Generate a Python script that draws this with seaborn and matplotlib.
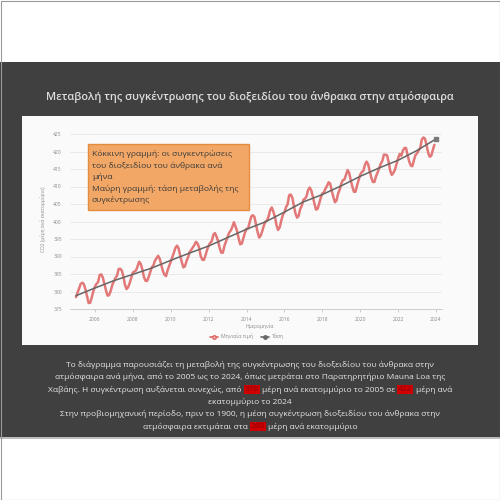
import numpy as np
import pandas as pd
import matplotlib
matplotlib.use("Agg")
import matplotlib.pyplot as plt
from matplotlib.patches import Rectangle
from matplotlib.lines import Line2D
import seaborn as sns

# Μηνιαίες τιμές CO2 (ppm), Mauna Loa, Ιαν 2005 - Δεκ 2023
years = list(range(2005, 2024))
months = list(range(1, 13))
co2_monthly = [
    378.4, 379.7, 380.9, 382.2, 382.5, 382.1, 380.6, 378.6, 376.7, 376.8, 378.3, 380.1,  # 2005
    381.4, 382.2, 382.7, 384.7, 384.9, 384.0, 382.1, 380.3, 378.8, 379.0, 380.2, 381.9,  # 2006
    382.9, 383.9, 384.5, 386.4, 386.5, 386.0, 384.4, 381.9, 380.7, 381.2, 382.4, 383.9,  # 2007
    385.4, 385.7, 386.0, 387.2, 388.5, 387.9, 386.4, 384.2, 383.1, 383.0, 384.1, 385.5,  # 2008
    386.9, 387.4, 388.8, 389.5, 390.2, 389.4, 387.7, 385.9, 384.8, 384.4, 386.0, 387.3,  # 2009
    388.5, 389.8, 391.1, 392.5, 393.1, 392.3, 390.2, 388.4, 386.9, 387.2, 388.7, 389.8,  # 2010
    391.3, 391.9, 392.6, 393.3, 394.2, 393.7, 392.5, 390.1, 389.1, 389.0, 390.3, 391.9,  # 2011
    393.1, 393.9, 394.4, 396.2, 396.7, 395.7, 394.4, 392.4, 391.1, 391.1, 393.0, 394.3,  # 2012
    395.6, 396.8, 397.4, 398.4, 399.8, 398.6, 397.3, 395.2, 393.5, 393.7, 395.2, 396.8,  # 2013
    397.9, 398.0, 399.8, 401.4, 401.8, 401.3, 399.1, 397.0, 395.4, 396.0, 397.3, 398.9,  # 2014
    400.0, 400.3, 401.5, 403.3, 404.0, 402.8, 401.3, 398.9, 397.6, 398.3, 400.2, 401.9,  # 2015
    402.6, 404.1, 404.9, 407.5, 407.7, 406.8, 404.4, 402.3, 401.1, 401.6, 403.6, 404.5,  # 2016
    406.2, 406.5, 407.2, 409.0, 409.7, 408.9, 407.1, 405.1, 403.4, 403.6, 405.1, 406.8,  # 2017
    408.0, 408.3, 409.4, 410.2, 411.2, 410.8, 408.7, 407.0, 405.5, 406.0, 408.0, 409.1,  # 2018
    410.8, 411.8, 412.0, 413.3, 414.7, 413.9, 411.8, 410.0, 408.5, 408.5, 410.3, 411.8,  # 2019
    413.4, 414.1, 414.5, 416.2, 417.1, 416.4, 414.4, 412.6, 411.3, 411.3, 412.9, 414.0,  # 2020
    415.2, 416.5, 417.3, 419.1, 419.1, 418.9, 417.0, 414.5, 413.3, 413.9, 414.8, 416.4,  # 2021
    418.1, 419.3, 418.8, 420.2, 421.0, 421.0, 418.9, 417.2, 416.0, 415.8, 417.5, 419.0,  # 2022
    419.5, 420.3, 421.0, 423.4, 424.0, 423.7, 421.8, 419.7, 418.5, 418.8, 420.5, 421.9,  # 2023
]

# Τάση (αρχή κάθε έτους)
trend_years = list(range(2005, 2025))
trend_ppm = [378.8, 381.0, 383.1, 384.9, 386.7, 388.9, 391.0, 393.0, 395.4, 397.8,
             399.9, 402.7, 405.6, 407.7, 410.2, 412.9, 415.3, 417.5, 420.3, 423.6]

y_ticks = [375, 380, 385, 390, 395, 400, 405, 410, 415, 420, 425]
x_ticks = [2006, 2008, 2010, 2012, 2014, 2016, 2018, 2020, 2022, 2024]

title = "Μεταβολή της συγκέντρωσης του διοξειδίου του άνθρακα στην ατμόσφαιρα"
x_label = "Ημερομηνία"
y_label = "CO2 (μέρη ανά εκατομμύριο)"
legend_labels = ["Μηνιαία τιμή", "Τάση"]
note_lines = ["Κόκκινη γραμμή: οι συγκεντρώσεις",
              "του διοξειδίου του άνθρακα ανά",
              "μήνα",
              "Μαύρη γραμμή: τάση μεταβολής της",
              "συγκέντρωσης"]
# κείμενο κάτω από το διάγραμμα: (κομμάτι, επισημασμένο;)
caption = [
    [("Το διάγραμμα παρουσιάζει τη μεταβολή της συγκέντρωσης του διοξειδίου του άνθρακα στην", False)],
    [("ατμόσφαιρα ανά μήνα, από το 2005 ως το 2024, όπως μετράται στο Παρατηρητήριο Mauna Loa της", False)],
    [("Χαβάης. Η συγκέντρωση αυξάνεται συνεχώς, από", False), ("378", True),
     ("μέρη ανά εκατομμύριο το 2005 σε", False), ("422", True), ("μέρη ανά", False)],
    [("εκατομμύριο το 2024", False)],
    [("Στην προβιομηχανική περίοδο, πριν το 1900, η μέση συγκέντρωση διοξειδίου του άνθρακα στην", False)],
    [("ατμόσφαιρα εκτιμάται στα", False), ("280", True), ("μέρη ανά εκατομμύριο", False)],
]

df = pd.DataFrame({
    "year": np.repeat(years, 12),
    "month": np.tile(months, len(years)),
    "ppm": co2_monthly,
})
df["t"] = df["year"] + (df["month"] - 1) / 12
trend_df = pd.DataFrame({"t": trend_years, "ppm": trend_ppm})

sns.set_style("white")
plt.rcParams["font.family"] = ["Open Sans", "DejaVu Sans"]

W = H = 500
fig = plt.figure(figsize=(5, 5), dpi=100)
fig.patch.set_facecolor("white")

def px(x0, y0, x1, y1):
    # pixel box -> figure coords
    return (x0 / W, 1 - y1 / H), (x1 - x0) / W, (y1 - y0) / H

# σκούρο φόντο διαφάνειας
xy, w, h = px(0, 62, 500, 437)
fig.patches.append(Rectangle(xy, w, h, transform=fig.transFigure, facecolor="#404040",
                             edgecolor="none", zorder=0))
xy, w, h = px(0, 437, 500, 439)
fig.patches.append(Rectangle(xy, w, h, transform=fig.transFigure, facecolor="#bdbdbd",
                             edgecolor="none", zorder=0))
# λευκό πλαίσιο διαγράμματος
xy, w, h = px(22, 116, 478, 345)
fig.patches.append(Rectangle(xy, w, h, transform=fig.transFigure, facecolor="#fafafa",
                             edgecolor="none", zorder=1))
# περίγραμμα εικόνας
fig.patches.append(Rectangle((0.001, 0.001), 0.998, 0.998, transform=fig.transFigure,
                             facecolor="none", edgecolor="#9a9a9a", lw=0.8, zorder=5))

fig.text(0.5, 1 - 97 / H, title, ha="center", va="center", color="#dcdcdc",
         fontsize=7.9, fontweight="semibold")

ax = fig.add_axes([70.3 / W, 1 - 309 / H, 371.4 / W, 178.5 / H], zorder=2)
ax.set_facecolor("none")
sns.lineplot(data=df, x="t", y="ppm", ax=ax, color="#e06a6a", lw=1.8, alpha=0.9)
sns.lineplot(data=trend_df, x="t", y="ppm", ax=ax, color="#666666", lw=1.1)
ax.plot(trend_years[-1], trend_ppm[-1], marker="s", ms=3, color="#7a7a7a", clip_on=False)

ax.set_xlim(2004.7, 2024.3)
ax.set_ylim(375, 426)
ax.set_yticks(y_ticks)
ax.set_xticks(x_ticks)
ax.tick_params(axis="y", length=0, pad=6, labelsize=3.6, labelcolor="#8a8a8a")
ax.tick_params(axis="x", length=2.5, width=0.5, color="#bbbbbb", pad=3,
               labelsize=3.6, labelcolor="#8a8a8a", bottom=True)
ax.grid(axis="y", color="#e8e8e8", lw=0.6)
for s in ["top", "right", "left"]:
    ax.spines[s].set_visible(False)
ax.spines["bottom"].set_color("#cccccc")
ax.spines["bottom"].set_linewidth(0.7)
ax.set_xlabel("")
ax.set_ylabel(y_label, fontsize=3.5, color="#8a8a8a", labelpad=5)
fig.text(260 / W, 1 - 326.5 / H, x_label, ha="center", va="center", fontsize=3.6, color="#8a8a8a")

handles = [
    Line2D([], [], color="#e06666", lw=1.2, marker="o", ms=2.5, mfc="#f4c0c0", mec="#e06666"),
    Line2D([], [], color="#6a6a6a", lw=1.2, marker="o", ms=2.5, mfc="#6a6a6a", mec="#6a6a6a"),
]
fig.legend(handles, legend_labels, loc="center", bbox_to_anchor=(247 / W, 1 - 336.5 / H), ncol=2,
           frameon=False, fontsize=3.7, labelcolor="#8a8a8a", handlelength=1.6,
           handletextpad=0.5, columnspacing=1.5, borderpad=0.1)

# πορτοκαλί πλαίσιο σημείωσης
xy, w, h = px(88, 144, 249, 210)
fig.patches.append(Rectangle(xy, w, h, transform=fig.transFigure, facecolor="#f2a766",
                             edgecolor="#e58d3e", lw=1.0, zorder=3))
for i, line in enumerate(note_lines):
    fig.text(92 / W, 1 - (154 + i * 11.5) / H, line, ha="left", va="center",
             fontsize=6.1, color="#3a3a3a", zorder=4)

# κείμενο περιγραφής με επισημασμένους αριθμούς
renderer = fig.canvas.get_renderer()
gap = 3.0
for i, parts in enumerate(caption):
    y = 1 - (365 + i * 12.3) / H
    texts = []
    for txt, hl in parts:
        t = fig.text(0, y, txt, ha="left", va="center", fontsize=6.0,
                     color="#8b0000" if hl else "#e6e6e6", zorder=4)
        if hl:
            t.set_bbox(dict(facecolor="#d00000", edgecolor="none", pad=0.6))
        texts.append(t)
    widths = [t.get_window_extent(renderer).width for t in texts]
    total = sum(widths) + gap * (len(texts) - 1)
    x = (W - total) / 2
    for t, wd in zip(texts, widths):
        t.set_x(x / W)
        x += wd + gap

fig.savefig("out.png", dpi=100)
